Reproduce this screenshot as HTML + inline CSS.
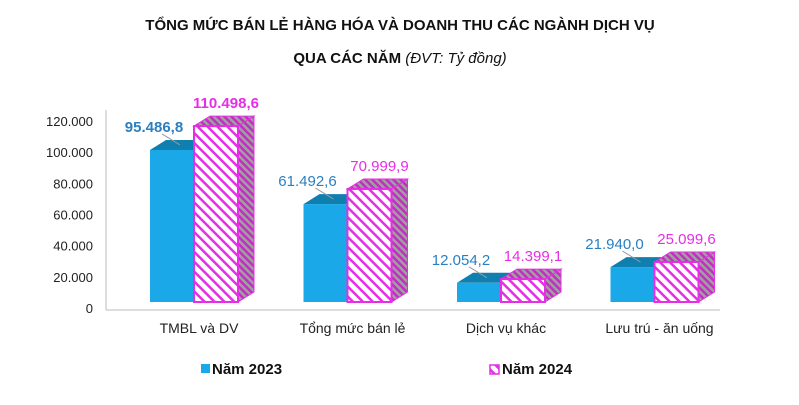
<!DOCTYPE html>
<html><head><meta charset="utf-8"><style>
body{margin:0;background:#fff;width:799px;height:400px;overflow:hidden;font-family:"Liberation Sans",sans-serif}
</style></head><body>
<svg width="799" height="400" id="c" font-family="Liberation Sans, sans-serif">
<defs>
<pattern id="hatch" width="7" height="7" patternUnits="userSpaceOnUse" patternTransform="rotate(-45)">
<rect width="7" height="7" fill="#fff"/><rect width="2.5" height="7" fill="#e62ee6"/></pattern>
<pattern id="hatch2" width="5" height="5" patternUnits="userSpaceOnUse" patternTransform="rotate(-45)">
<rect width="5" height="5" fill="#a0a0a0"/><rect width="2.5" height="5" fill="#c030c0"/></pattern>
</defs>
<text x="400" y="30" text-anchor="middle" font-size="15" font-weight="bold" fill="#111">TỔNG MỨC BÁN LẺ HÀNG HÓA VÀ DOANH THU CÁC NGÀNH DỊCH VỤ</text>
<text x="400" y="63" text-anchor="middle" font-size="15" font-weight="bold" fill="#111">QUA CÁC NĂM <tspan font-weight="normal" font-style="italic">(ĐVT: Tỷ đồng)</tspan></text>
<line x1="106" y1="110" x2="106" y2="310" stroke="#bbb"/>
<line x1="106" y1="310" x2="720" y2="310" stroke="#bbb"/>
<g id="ticks"></g><g id="bars"></g>
<rect x="201" y="364" width="9" height="9" fill="#1aa8e8"/>
<text x="212" y="374" font-size="15" font-weight="bold" fill="#111">Năm 2023</text>
<rect x="490" y="365" width="9" height="9" fill="url(#hatch)" stroke="#e62ee6" stroke-width="1.5"/>
<text x="502" y="374" font-size="15" font-weight="bold" fill="#111">Năm 2024</text>
</svg>
<script>
const categories=["TMBL và DV","Tổng mức bán lẻ","Dịch vụ khác","Lưu trú - ăn uống"];
const values2023=[95486.8,61492.6,12054.2,21940.0];
const values2024=[110498.6,70999.9,14399.1,25099.6];
const labels2023=["95.486,8","61.492,6","12.054,2","21.940,0"];
const labels2024=["110.498,6","70.999,9","14.399,1","25.099,6"];
const tickValues=[0,20000,40000,60000,80000,100000,120000];
const tickLabels=["0","20.000","40.000","60.000","80.000","100.000","120.000"];
const NS="http://www.w3.org/2000/svg";
function mk(t,a,p){const e=document.createElementNS(NS,t);for(const k in a)e.setAttribute(k,a[k]);p.appendChild(e);return e;}
const tickY=v=>308-v*187/120000;
const barY=v=>302-v*1.592e-3;
const groupX=i=>150+i*153.5;
const T=document.getElementById('ticks'),B=document.getElementById('bars');
tickValues.forEach((v,i)=>{const t=mk('text',{x:93,y:tickY(v)+5,'text-anchor':'end','font-size':13,fill:'#222'},T);t.textContent=tickLabels[i];

});
const dx=16,dy=10,w=44;
categories.forEach((c,i)=>{
 const x0=groupX(i),x1=x0+w;
 const yb=barY(values2023[i]),yp=barY(values2024[i]);
 const g=mk('g',{},B);
 
 
 const bt=mk('polygon',{points:`${x0},${yb} ${x0+dx},${yb-dy} ${x1+dx},${yb-dy} ${x1},${yb}`,fill:'#0f7fb0'},g);
 
 
 const bf=mk('rect',{x:x0,y:yb,width:w,height:302-yb,fill:'#1aa8e8'},g);
 
 
 const ps=mk('polygon',{points:`${x1+w},${yp} ${x1+w+dx},${yp-dy} ${x1+w+dx},${302-dy} ${x1+w},302`,fill:'url(#hatch2)',stroke:'#e62ee6','stroke-width':1},g);
 
 
 const pt=mk('polygon',{points:`${x1},${yp} ${x1+dx},${yp-dy} ${x1+w+dx},${yp-dy} ${x1+w},${yp}`,fill:'url(#hatch2)',stroke:'#e62ee6','stroke-width':1},g);
 
 
 const pf=mk('rect',{x:x1,y:yp,width:w,height:302-yp,fill:'url(#hatch)',stroke:'#e62ee6','stroke-width':2},g);
 
 
 const ld=mk('line',{x1:x0+12,y1:yb-16,x2:x0+30,y2:yb-5,stroke:'#999'},g);
 
 
 const l1=mk('text',{x:x0+4,y:yb-18,'text-anchor':'middle','font-size':15,fill:'#2b7fc0','font-weight':i==0?'bold':'normal'},g);l1.textContent=labels2023[i];
 
 
 const l2=mk('text',{x:x1+w/2+10,y:yp-18,'text-anchor':'middle','font-size':15,fill:'#e62ee6','font-weight':i==0?'bold':'normal'},g);l2.textContent=labels2024[i];
 
 
 const cl=mk('text',{x:x1+5,y:333,'text-anchor':'middle','font-size':14,fill:'#222'},g);cl.textContent=c;
 
 
});
</script>
</body></html>
